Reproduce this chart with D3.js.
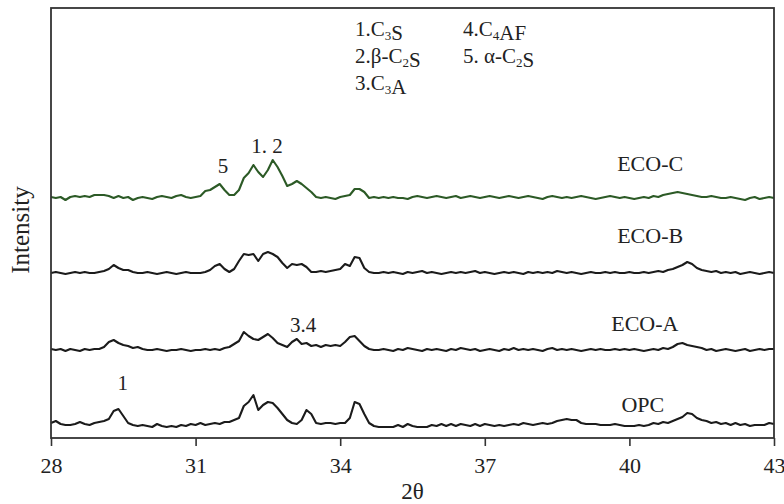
<!DOCTYPE html>
<html>
<head>
<meta charset="utf-8">
<script src="https://cdn.jsdelivr.net/npm/d3@7"></script>
<style>
  html, body { margin: 0; padding: 0; background: #fff; }
  svg text { font-family: "Liberation Serif", "Times New Roman", serif; fill: #222; }
</style>
</head>
<body>
<svg id="chart" width="784" height="504"></svg>
<script>
// XRD patterns, 2θ from 28° to 43° in 0.1° steps (relative intensity above each trace's baseline)
const startAngle = 28;
const stepAngle = 0.1;
const xTicks = [28, 31, 34, 37, 40, 43];

const opc = [
  3,5,2,1,1,2,4,2,1,3,
  4,5,7,15,17,10,3,1,0,1,
  0,-1,2,0,-1,0,-1,1,0,2,
  1,3,1,2,3,2,4,4,6,8,
  20,24,31,16,21,24,23,18,12,6,
  3,2,6,16,12,3,2,3,3,2,
  3,3,8,24,22,12,3,0,-1,-1,
  -1,-1,1,-1,2,0,-1,-1,-1,1,
  0,2,0,2,0,2,1,0,2,0,
  2,1,0,1,0,1,2,1,3,2,
  1,2,3,2,3,5,6,7,6,6,
  3,2,2,2,1,1,1,2,1,0,
  0,0,1,0,1,3,2,4,3,5,
  7,9,13,12,8,6,5,3,4,2,
  3,1,3,1,2,0,1,1,1,3,
  2
];
const ecoA = [
  1,0,1,-1,1,0,-1,1,0,1,
  1,3,8,10,7,5,4,2,3,1,
  0,0,1,0,-1,0,0,1,0,-1,
  0,0,1,0,1,0,2,3,6,9,
  18,14,11,10,13,16,12,7,5,3,
  8,11,6,7,4,5,3,5,4,5,
  4,8,13,14,9,4,1,0,0,1,
  0,-1,1,0,2,1,0,-1,1,0,
  1,0,-1,1,0,2,1,0,1,-1,
  0,1,0,-1,1,0,2,0,1,0,
  1,0,-1,1,2,0,1,0,1,0,
  -1,0,1,0,1,0,0,1,0,1,
  0,1,0,-1,0,1,0,2,1,3,
  6,7,5,4,3,2,0,1,-1,0,
  1,0,-1,0,1,-1,0,1,0,1,
  1
];
const ecoB = [
  0,1,0,-1,0,1,0,1,0,0,
  1,2,4,8,5,3,3,1,0,0,
  1,0,-1,0,1,0,-1,0,1,0,
  0,0,1,3,7,9,4,1,4,12,
  19,18,19,12,19,21,19,16,10,5,
  9,8,9,6,1,1,2,1,2,3,
  4,9,7,16,15,5,1,0,0,1,
  0,1,0,-1,1,0,1,2,0,1,
  0,-1,0,1,0,1,0,1,2,0,
  1,0,-1,0,1,0,1,0,-1,1,
  0,1,0,1,0,2,1,0,1,0,
  -1,0,1,0,0,1,0,1,0,0,
  1,0,0,1,0,1,2,1,3,4,
  6,8,11,9,5,3,2,1,2,0,
  1,0,1,-1,0,1,0,-1,0,1,
  0
];
const ecoC = [
  1,0,1,-2,1,2,1,2,1,3,
  3,3,2,0,2,0,1,-2,0,1,
  0,-1,1,2,1,0,2,3,1,0,
  1,2,7,8,11,14,8,3,3,8,
  20,25,33,26,21,28,38,31,22,12,
  14,17,14,10,6,1,0,1,0,-1,
  1,2,3,9,9,6,0,1,0,1,
  0,1,0,0,-1,1,2,1,0,1,
  2,1,0,1,2,0,1,2,1,0,
  1,2,1,0,1,2,1,0,1,2,
  1,0,-1,1,2,1,0,1,0,1,
  2,1,0,-1,0,1,2,1,0,1,
  0,-1,0,1,0,2,1,3,4,5,
  6,5,4,3,2,1,1,2,1,0,
  0,1,0,-1,-2,0,1,-1,0,1,
  0
];

const seriesNames = ["OPC", "ECO-A", "ECO-B", "ECO-C"];
const seriesValues = [opc, ecoA, ecoB, ecoC];
const seriesOffsets = [12, 88, 165, 240];
const seriesColors = ["#1b1b1b", "#1b1b1b", "#1b1b1b", "#2c5a26"];

// Peak annotations: [label, 2θ, intensity]
const peakLabels = [
  ["5", 31.57, 265],
  ["1. 2", 32.48, 285],
  ["3.4", 33.23, 106],
  ["1", 29.49, 48]
];
// Trace names: [label, 2θ, intensity]
const traceLabels = [
  ["ECO-C", 40.43, 267],
  ["ECO-B", 40.43, 195],
  ["ECO-A", 40.32, 107],
  ["OPC", 40.28, 26]
];

const svg = d3.select("#chart");
const margin = { left: 51, right: 10, top: 8, bottom: 66 };
const W = 784, H = 504;
const x = d3.scaleLinear().domain([28, 43]).range([margin.left, W - margin.right]);
const y = d3.scaleLinear().domain([0, 430]).range([H - margin.bottom, margin.top]);

// Traces
const line = d3.line()
  .x(d => x(d[0]))
  .y(d => y(d[1]))
  .curve(d3.curveLinear);

seriesValues.forEach((vals, si) => {
  const pts = vals.map((v, i) => [startAngle + i * stepAngle, v + seriesOffsets[si]]);
  svg.append("path")
    .datum(pts)
    .attr("d", line)
    .attr("fill", "none")
    .attr("stroke", seriesColors[si])
    .attr("stroke-width", 2.1)
    .attr("stroke-linejoin", "round");
});

// Frame
svg.append("rect")
  .attr("x", x(28)).attr("y", y(430))
  .attr("width", x(43) - x(28)).attr("height", y(0) - y(430))
  .attr("fill", "none").attr("stroke", "#333").attr("stroke-width", 1.8);

// Bottom axis
const xAxis = d3.axisBottom(x).tickValues(xTicks).tickSize(8).tickPadding(11).tickFormat(d3.format("d"));
const gx = svg.append("g").attr("transform", `translate(0,${y(0)})`).call(xAxis);
gx.select(".domain").remove();
gx.selectAll(".tick line").attr("stroke", "#333").attr("stroke-width", 1.6);
gx.selectAll(".tick text")
  .style("font-family", '"Liberation Serif", serif')
  .style("font-size", "22px").attr("fill", "#222");

// Axis titles
svg.append("text")
  .attr("x", (x(28) + x(43)) / 2).attr("y", 499)
  .attr("text-anchor", "middle").style("font-size", "23px")
  .text("2θ");
svg.append("text")
  .attr("transform", "translate(29,230) rotate(-90)")
  .attr("text-anchor", "middle").style("font-size", "25px")
  .text("Intensity");

// Phase key with subscripts
function richText(g, parts, xPos, yPos) {
  const t = g.append("text").attr("x", xPos).attr("y", yPos).style("font-size", "21px");
  parts.forEach(p => {
    if (typeof p === "string") {
      t.append("tspan").text(p);
    } else {
      t.append("tspan").attr("dy", 4).style("font-size", "13px").text(p.sub);
      t.append("tspan").attr("dy", -4).text("");
    }
  });
  return t;
}
const keyRows = [
  [["1.C", {sub: "3"}, "S"], ["4.C", {sub: "4"}, "AF"]],
  [["2.β-C", {sub: "2"}, "S"], ["5. α-C", {sub: "2"}, "S"]],
  [["3.C", {sub: "3"}, "A"], null]
];
const key = svg.append("g");
keyRows.forEach((row, r) => {
  const yy = 36 + r * 27;
  richText(key, row[0], 355, yy);
  if (row[1]) richText(key, row[1], 463, yy);
});

// Peak labels
peakLabels.forEach(([txt, a, v]) => {
  svg.append("text").attr("x", x(a)).attr("y", y(v))
    .attr("text-anchor", "middle").style("font-size", "21px").text(txt);
});

// Trace labels
traceLabels.forEach(([txt, a, v]) => {
  svg.append("text").attr("x", x(a)).attr("y", y(v))
    .attr("text-anchor", "middle").style("font-size", "22px").text(txt);
});
</script>
</body>
</html>
